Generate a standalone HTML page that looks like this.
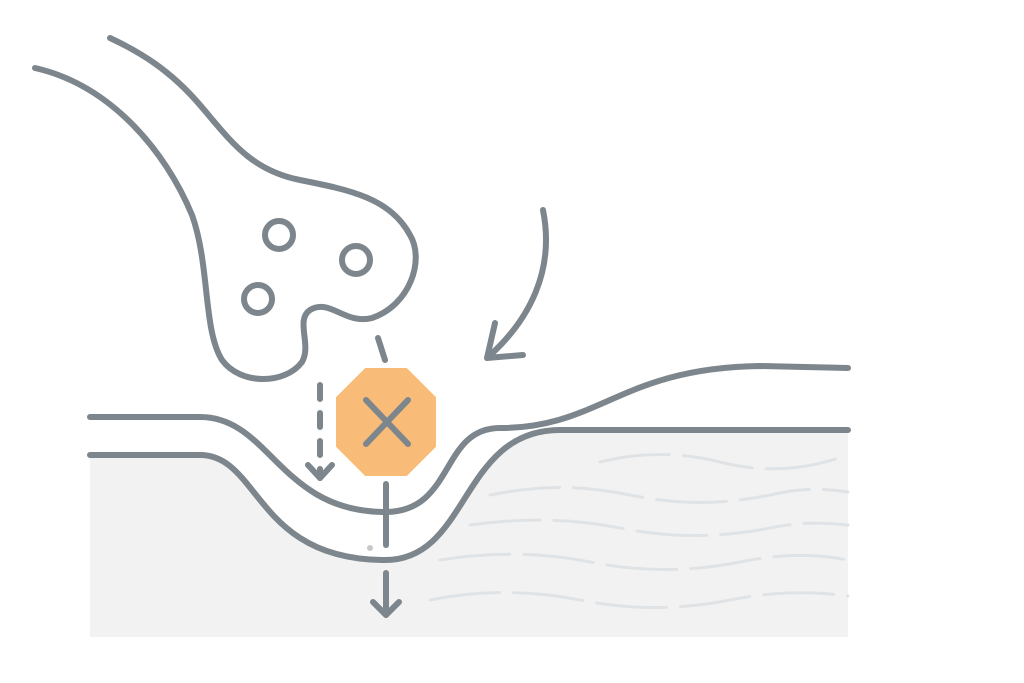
<!DOCTYPE html>
<html><head><style>html,body{margin:0;padding:0;background:#fff}svg{display:block}</style></head>
<body>
<svg width="1024" height="683" viewBox="0 0 1024 683" xmlns="http://www.w3.org/2000/svg">
<path d="M90,455 L200,455 C260,455 255,560 385,560 C470,560 460,430 560,430 L848,430 L848,637 L90,637 Z" fill="#f2f2f2"/>
<path d="M90,455 L200,455 C260,455 255,560 385,560 C470,560 460,430 560,430 L848,430" fill="none"/>
<g fill="none" stroke="#e0e3e6" stroke-width="3" stroke-linecap="round" stroke-dasharray="70 14">
<path d="M600,462 C640,452 680,452 720,462 C760,472 800,472 848,455"/>
<path d="M490,495 C540,485 580,485 630,495 C680,505 720,505 770,495 C800,488 820,488 848,492"/>
<path d="M470,525 C520,518 570,518 620,528 C670,538 720,538 770,528 C800,522 820,522 848,525"/>
<path d="M440,560 C490,552 540,552 590,562 C640,572 690,572 740,562 C790,552 820,555 848,560"/>
<path d="M430,600 C480,590 530,590 580,600 C630,610 680,610 730,600 C780,590 820,592 848,596"/>
</g>
<g fill="none" stroke="#7d868c" stroke-width="6" stroke-linecap="round" stroke-linejoin="round">
<path d="M90,417 L200,417 C270,417 280,512 385,512 C455,512 440,428 500,428 C600,428 620,368 760,366 L848,368"/>
<path d="M90,455 L200,455 C260,455 255,560 385,560 C470,560 460,430 560,430 L848,430"/>
<path d="M35,68 C110,85 165,150 192,215 C210,265 203,330 222,360 C240,385 285,385 302,362 C312,345 295,320 310,310 C330,298 345,325 372,318 C410,305 425,260 410,235 C390,198 350,190 300,180 C250,170 230,140 200,105 C170,70 140,52 110,38"/>
<circle cx="279" cy="235" r="14"/>
<circle cx="356" cy="260" r="14"/>
<circle cx="258" cy="299" r="14"/>
<path d="M543,210 C555,270 530,320 487,358"/>
<path d="M495,323 L487,358 L523,355"/>
<path d="M378,338 L385,360"/>
<path d="M320,385 L320,478" stroke-dasharray="14 14"/>
<path d="M308,465 L320,478 L332,465"/>
<path d="M386,484 L386,545"/>
<path d="M386,573 L386,615"/>
<path d="M373,602 L386,615 L399,602"/>
</g>
<polygon points="366,370 406,370 434,398 434,446 406,474 366,474 338,446 338,398" fill="#f8bc78" stroke="#f8bc78" stroke-width="4" stroke-linejoin="round"/>
<g stroke="#7d868c" stroke-width="6" stroke-linecap="round">
<path d="M366,400 L408,444"/><path d="M408,400 L366,444"/>
</g>
<circle cx="370" cy="548" r="3" fill="#c8c8c8"/>
</svg>
</body></html>
